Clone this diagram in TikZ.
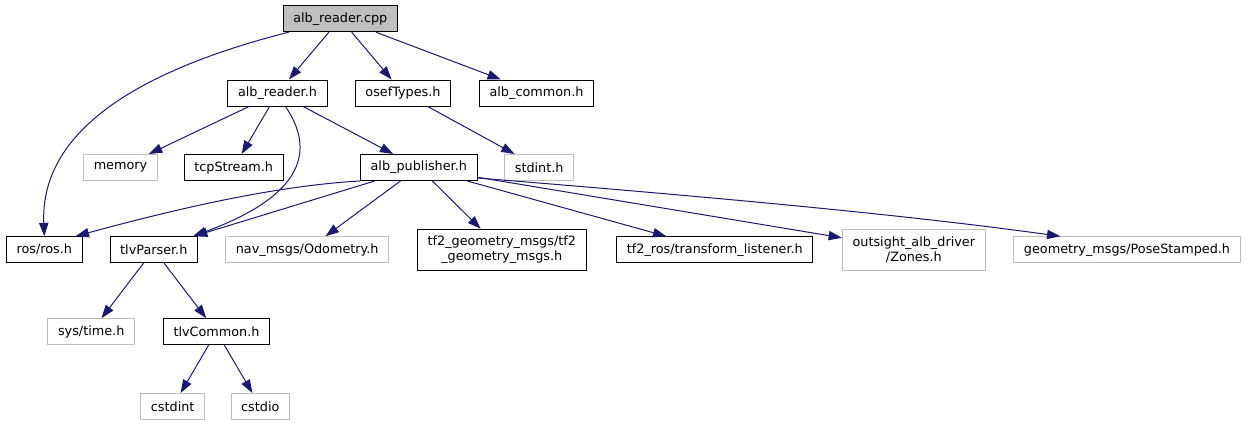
\documentclass[tikz,border=0pt]{standalone}
\usepackage{fontspec}
\setmainfont{DejaVu Sans}
\usetikzlibrary{arrows.meta,calc}
\definecolor{edgeblue}{HTML}{191970}
\definecolor{missing}{HTML}{BFBFBF}
\definecolor{mainfill}{HTML}{BFBFBF}

\begin{document}
\begin{tikzpicture}[x=0.75pt,y=0.75pt,
  hdr/.style={draw=black,line width=.75pt,inner xsep=7.6pt,inner ysep=2pt,
              minimum height=19.5pt,align=center,
              font=\fontsize{9.6}{11.2}\selectfont},
  syshdr/.style={hdr,draw=missing},
  dep/.style={-{Triangle[length=10pt,width=7pt]},edgeblue,line width=.75pt}]
\useasboundingbox (0,0) rectangle (1249,-425);

% ---------------- files
\node[hdr,fill=mainfill] (cpp) at (340.3,-18.7) {alb\_reader.cpp};

\node[hdr] (rdr)    at (277.5,-93) {alb\_reader.h};
\node[hdr] (osef)   at (403,-93)   {osefTypes.h};
\node[hdr] (common) at (536.5,-93) {alb\_common.h};

\node[syshdr] (memory) at (120.5,-167.5) {memory};
\node[hdr]    (tcp)    at (233.7,-167.5) {tcpStream.h};
\node[hdr]    (pub)    at (418.8,-167.5) {alb\_publisher.h};
\node[syshdr] (stdint) at (539.2,-167.5) {stdint.h};

\node[hdr]    (ros)    at (44.3,-249.7)  {ros/ros.h};
\node[hdr]    (tlv)    at (153.8,-249.7) {tlvParser.h};
\node[syshdr] (odom)   at (307.2,-249.7) {nav\_msgs/Odometry.h};
\node[hdr,minimum height=30.5pt] (tfgeom) at (501.8,-249.7)
     {tf2\_geometry\_msgs/tf2\\\_geometry\_msgs.h};
\node[hdr]    (tfros)  at (714.8,-249.8) {tf2\_ros/transform\_listener.h};
\node[syshdr,minimum height=30.5pt] (zones) at (913.8,-249.7)
     {outsight\_alb\_driver\\/Zones.h};
\node[syshdr] (pose)   at (1127,-249.8)  {geometry\_msgs/PoseStamped.h};

\node[syshdr] (systime) at (91.2,-331.7)  {sys/time.h};
\node[hdr]    (tlvcom)  at (216.5,-331.7) {tlvCommon.h};

\node[syshdr] (cstdint) at (172.7,-406.5) {cstdint};
\node[syshdr] (cstdio)  at (260.3,-406.5) {cstdio};

% ---------------- includes
\draw[dep] ($(cpp.south west)+(6,0)$) .. controls (140,-70) and (40,-130) .. (ros.north);
\draw[dep] (cpp) -- (rdr);
\draw[dep] (cpp) -- (osef);
\draw[dep] (cpp) -- (common);

\draw[dep] (rdr) -- (memory);
\draw[dep] (rdr) -- (tcp);
\draw[dep] ($(rdr.south)+(8,0)$) .. controls (315,-150) and (305,-195) .. ($(tlv.north east)+(-5,0)$);
\draw[dep] (rdr) -- (pub);

\draw[dep] (osef) -- (stdint);

\draw[dep] (pub.south west) .. controls (270,-186) and (165,-212) .. ($(ros.north east)+(-7,0)$);
\draw[dep] (pub) -- ($(tlv.north east)+(-4,0)$);
\draw[dep] (pub) -- (odom);
\draw[dep] (pub) -- (tfgeom);
\draw[dep] (pub) -- (tfros);
\draw[dep] (pub) -- (zones);
\draw[dep] ($(pub.south east)+(0,3)$) .. controls (700,-196) and (900,-214) .. ($(pose.north west)+(47,0)$);

\draw[dep] (tlv) -- (systime);
\draw[dep] (tlv) -- (tlvcom);

\draw[dep] (tlvcom) -- (cstdint);
\draw[dep] (tlvcom) -- (cstdio);
\end{tikzpicture}
\end{document}
